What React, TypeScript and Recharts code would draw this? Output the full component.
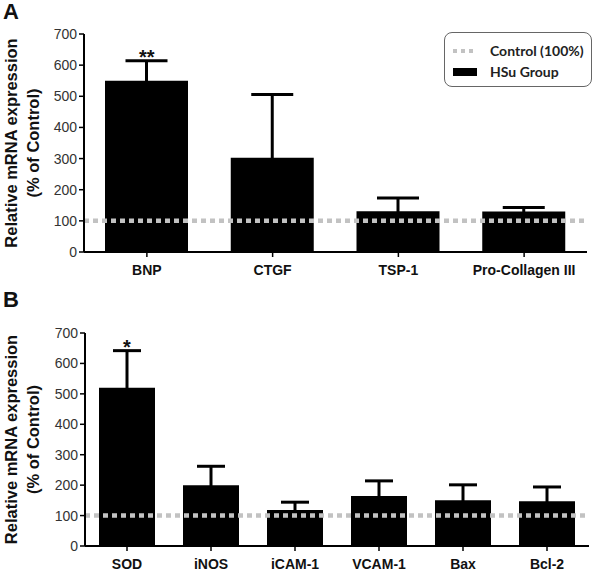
import {
  BarChart,
  Bar,
  XAxis,
  YAxis,
  ErrorBar,
  ReferenceLine,
  ReferenceDot,
  Legend,
  Label,
} from "recharts";

const FONT = "'Liberation Sans', Arial, sans-serif";
const GRAY = "#c2c2c2";

// Panel A – fibrosis / stress markers
const categoriesA = ["BNP", "CTGF", "TSP-1", "Pro-Collagen III"];
const meansA = [550, 303, 131, 130];
const errorsA = [64, 203, 42, 13];
const sigA = ["**", "", "", ""];

// Panel B – oxidative / adhesion / apoptosis markers
const categoriesB = ["SOD", "iNOS", "iCAM-1", "VCAM-1", "Bax", "Bcl-2"];
const meansB = [520, 200, 118, 164, 150, 147];
const errorsB = [122, 62, 26, 50, 51, 47];
const sigB = ["*", "", "", "", "", ""];

const controlLevel = 100;
const yTicks = [0, 100, 200, 300, 400, 500, 600, 700];
const legendLabels = ["Control (100%)", "HSu Group"];

const YTitle = ({ viewBox }: any) => {
  const cy = viewBox.y + viewBox.height / 2;
  const style = { fontFamily: FONT, fontSize: 16.5, fontWeight: 700, fill: "#111" };
  return (
    <g>
      <text transform={`translate(11, ${cy}) rotate(-90)`} textAnchor="middle" dominantBaseline="central" style={style}>
        Relative mRNA expression
      </text>
      <text transform={`translate(33, ${cy}) rotate(-90)`} textAnchor="middle" dominantBaseline="central" style={style}>
        (% of Control)
      </text>
    </g>
  );
};

const LegendBox = () => (
  <div
    style={{
      border: "1.5px solid #666",
      borderRadius: 8,
      width: 148,
      height: 55,
      boxSizing: "border-box",
      fontFamily: "Lato, 'Open Sans', sans-serif",
      fontWeight: 700,
      fontSize: 14,
      color: "#222",
      padding: "7px 0 0 7px",
    }}
  >
    <div style={{ display: "flex", alignItems: "center", height: 21 }}>
      <svg width={26} height={8} style={{ marginRight: 12 }}>
        <line x1={1} y1={4} x2={25} y2={4} stroke={GRAY} strokeWidth={4} strokeDasharray="4 4" />
      </svg>
      {legendLabels[0]}
    </div>
    <div style={{ display: "flex", alignItems: "center", height: 21 }}>
      <svg width={26} height={8} style={{ marginRight: 12 }}>
        <rect x={1} y={0} width={24} height={8} fill="#000" />
      </svg>
      {legendLabels[1]}
    </div>
  </div>
);

type PanelProps = {
  categories: string[];
  means: number[];
  errors: number[];
  sig: string[];
  height: number;
  top: number;
  xAxisHeight: number;
  yAxisWidth: number;
  right: number;
  barSize: number;
  capWidth: number;
  tickGap: number;
  legend?: boolean;
};

function Panel(p: PanelProps) {
  // symmetric error: the lower whisker stays hidden inside the black bar
  const data = p.categories.map((name, i) => ({
    name,
    mean: p.means[i],
    err: p.errors[i],
  }));
  return (
    <BarChart
      width={600}
      height={p.height}
      data={data}
      margin={{ top: p.top, right: p.right, bottom: 0, left: 0 }}
    >
      <XAxis
        dataKey="name"
        height={p.xAxisHeight}
        axisLine={{ stroke: "#000", strokeWidth: 2 }}
        tickLine={{ stroke: "#000", strokeWidth: 1.5 }}
        tickSize={5}
        tickMargin={p.tickGap}
        interval={0}
        tick={{ fontFamily: FONT, fontSize: 14, fontWeight: 700, fill: "#111" }}
      />
      <YAxis
        width={p.yAxisWidth}
        domain={[0, 700]}
        ticks={yTicks}
        interval={0}
        axisLine={{ stroke: "#000", strokeWidth: 2 }}
        tickLine={{ stroke: "#000", strokeWidth: 1.5 }}
        tickSize={5}
        tickMargin={2}
        tick={{ fontFamily: FONT, fontSize: 14, fill: "#333" }}
      >
        <Label content={<YTitle />} />
      </YAxis>
      <Bar dataKey="mean" fill="#000" barSize={p.barSize} isAnimationActive={false}>
        <ErrorBar dataKey="err" direction="y" width={p.capWidth} stroke="#000" strokeWidth={3} />
      </Bar>
      <ReferenceLine
        y={controlLevel}
        stroke={GRAY}
        strokeWidth={4.5}
        strokeDasharray="5 4"
      />
      {p.categories.map((c, i) =>
        p.sig[i] ? (
          <ReferenceDot
            key={c}
            x={c}
            y={p.means[i] + p.errors[i]}
            r={0}
            fill="none"
            stroke="none"
            label={{
              value: p.sig[i],
              position: "top",
              offset: -3,
              style: { fontFamily: FONT, fontSize: 20, fontWeight: 700, fill: "#111" },
            }}
          />
        ) : null
      )}
      {p.legend && (
        <Legend
          layout="vertical"
          align="center"
          verticalAlign="middle"
          wrapperStyle={{ left: 444, top: 32, width: 148, height: 55 }}
          content={() => <LegendBox />}
        />
      )}
    </BarChart>
  );
}

const letterStyle = {
  position: "absolute" as const,
  left: 3,
  fontFamily: FONT,
  fontWeight: 700,
  fontSize: 22,
  lineHeight: "22px",
  color: "#111",
};

export default function App() {
  return (
    <div style={{ position: "absolute", left: 0, top: 0, width: 600, height: 573, background: "#fff", overflow: "hidden" }}>
      <div style={{ position: "absolute", left: 0, top: 0 }}>
        <Panel
          categories={categoriesA}
          means={meansA}
          errors={errorsA}
          sig={sigA}
          height={290}
          top={34}
          xAxisHeight={38}
          yAxisWidth={84}
          right={13}
          barSize={83}
          capWidth={21}
          tickGap={8}
          legend
        />
      </div>
      <div style={{ position: "absolute", left: 0, top: 290 }}>
        <Panel
          categories={categoriesB}
          means={meansB}
          errors={errorsB}
          sig={sigB}
          height={283}
          top={43}
          xAxisHeight={27}
          yAxisWidth={85}
          right={11}
          barSize={56}
          capWidth={14}
          tickGap={8}
        />
      </div>
      <div style={{ ...letterStyle, top: 1 }}>A</div>
      <div style={{ ...letterStyle, top: 289 }}>B</div>
    </div>
  );
}
